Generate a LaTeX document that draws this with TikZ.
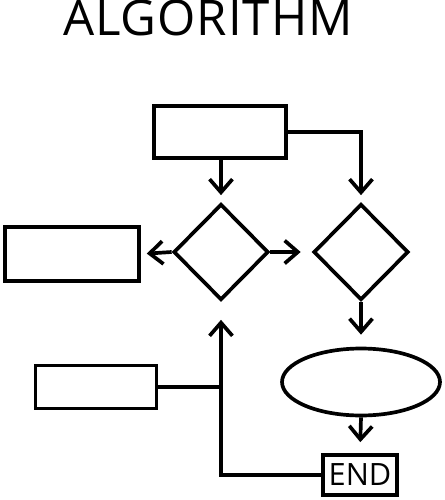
\documentclass[tikz,border=0pt]{standalone}
\usepackage{fontspec}
\setmainfont{Open Sans}
\usetikzlibrary{shapes.geometric,arrows.meta}

\begin{document}
\begin{tikzpicture}[x=0.02cm,y=-0.02cm,line width=2.1pt,
    box/.style={draw,rectangle,inner sep=0pt},
    choice/.style={draw,diamond,inner sep=0pt,minimum width=1.9cm,minimum height=1.92cm},
    flow/.style={-{Straight Barb[length=7.5pt,width=13pt]}}]
  \useasboundingbox (0,0) rectangle (444,500);
  \node[anchor=base,inner sep=0pt] (title) at (208,36)
    {\fontsize{28}{32}\selectfont\addfontfeature{LetterSpace=2}ALGORITHM};
  \node[box,minimum width=2.64cm,minimum height=1.04cm] (start) at (220,132) {};
  \node[choice] (q1) at (221,252) {};
  \node[choice] (q2) at (361,252) {};
  \node[box,minimum width=2.68cm,minimum height=1.08cm] (left) at (72,254) {};
  \node[draw,ellipse,inner sep=0pt,minimum width=3.16cm,minimum height=1.34cm] (proc) at (361,382) {};
  \node[box,minimum width=1.48cm,minimum height=0.8cm] (end) at (360,475)
    {\fontsize{17.5}{20}\selectfont END};
  \node[box,minimum width=2.42cm,minimum height=0.86cm] (input) at (96,387) {};
  \coordinate (join) at (q1.south |- input.east);
  \begin{scope}[flow]
    \draw[shorten >=0.14cm] (start.south -| q1.north) to (q1.north);
    \draw[shorten >=0.14cm] (start.east) -| (q2.north);
    \draw[shorten >=0.12cm] (q1.west) to (left.east);
    \draw[shorten >=0.22cm] (q1.east) to (q2.west);
    \draw[shorten >=0.24cm] (q2.south) to (proc.north);
    \draw[shorten >=0.22cm] (proc.south) to (end.north);
    \draw[shorten >=0.36cm] (end.west) -| (q1.south);
  \end{scope}
  \draw (input.east) to (join);
\end{tikzpicture}
\end{document}
